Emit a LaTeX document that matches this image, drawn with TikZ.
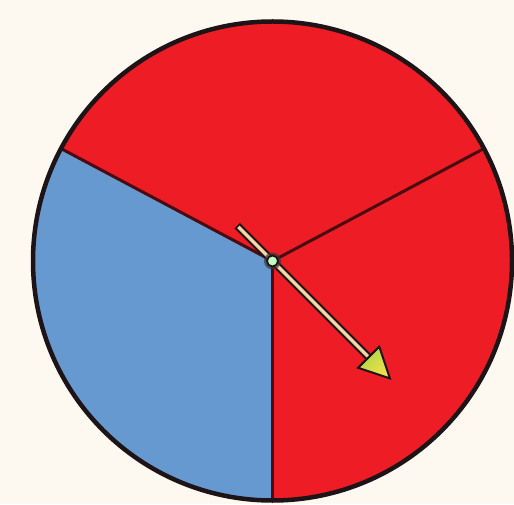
\documentclass[tikz,border=0pt]{standalone}
\usetikzlibrary{calc}
\definecolor{bgc}{HTML}{FDF9F1}
\definecolor{spinred}{HTML}{EE1C25}
\definecolor{spinblue}{HTML}{6699D0}
\definecolor{rim}{HTML}{1E1418}
\definecolor{divc}{HTML}{4A0C10}
\definecolor{shaftc}{HTML}{F6D6A6}
\definecolor{headyel}{HTML}{F2E04A}
\definecolor{headgrn}{HTML}{A8D848}
\tikzset{
  divider/.style={draw=divc, line width=3pt},
  rimline/.style={draw=rim, line width=4.5pt},
}
\begin{document}
\begin{tikzpicture}[x=1pt,y=1pt]
\useasboundingbox (0,0) rectangle (514,504);
\fill[bgc] (0,0) rectangle (514,504);
\coordinate (O) at (272.5,243);
\def\R{239.5}
\fill[spinred] (O) circle (\R);
\fill[spinblue] (O) -- ++(152:\R) arc[start angle=152,end angle=270,radius=\R] -- cycle;
\coordinate (L) at ($(O)+(152:\R)$);
\coordinate (Rr) at ($(O)+(28:\R)$);
\coordinate (Bt) at ($(O)+(270:\R)$);
\draw[divider] (O) -- (L);
\draw[divider] (O) -- (Rr);
\draw[divider] (O) -- (Bt);
\draw[rimline] (O) circle (\R);
% arrow
\coordinate (T) at ($(O)+(135:50)$);
\coordinate (Hb) at ($(O)+(-45:136)$);
\coordinate (Tip) at ($(O)+(-45:166)$);
\coordinate (H1) at ($(Hb)+(45:15)$);
\coordinate (H2) at ($(Hb)+(-135:15)$);
\draw[rim, line width=7.5pt] (T) -- ($(O)+(-45:140)$);
\draw[shaftc, line width=3.5pt, shorten <=1.8pt] (T) -- ($(O)+(-45:140)$);
\draw[rim, line width=2pt, line join=miter, left color=headgrn, right color=headyel, shading angle=45] (Tip) -- (H1) -- (H2) -- cycle;
\fill[rim!70!gray, opacity=0.7] (O) circle (8.5pt);
\node[circle, draw=rim, line width=1.8pt, fill=white!75!green, minimum size=11pt, inner sep=0pt] (pivot) at (O) {};
\end{tikzpicture}
\end{document}
